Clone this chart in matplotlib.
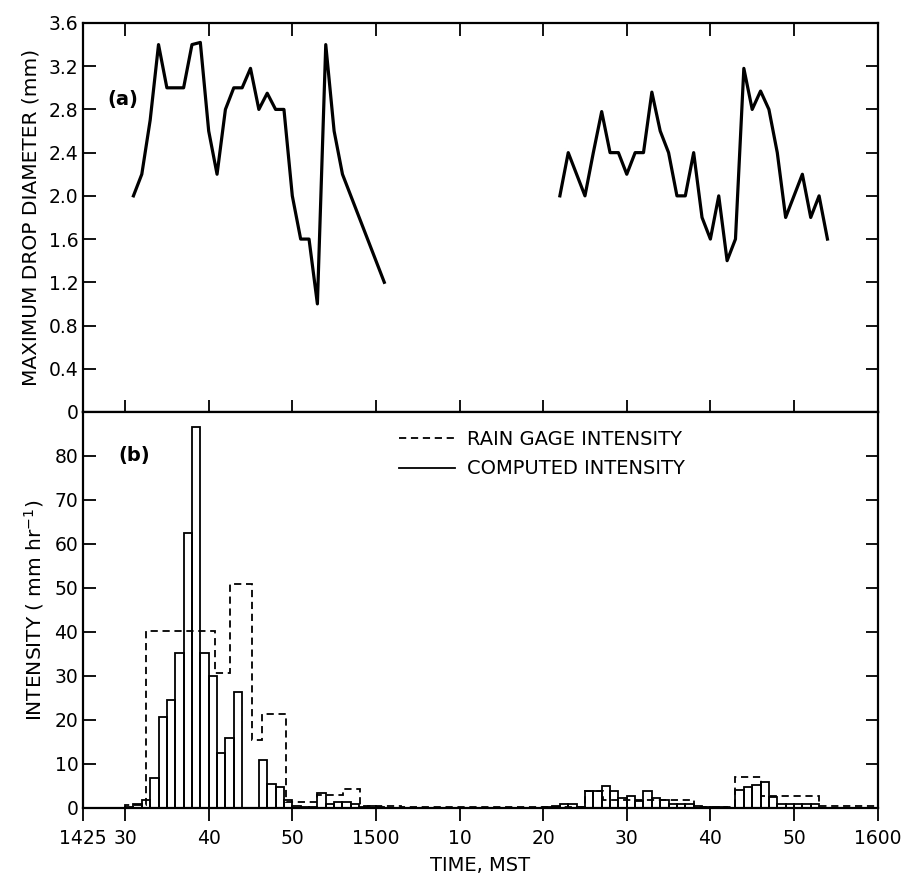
import matplotlib
matplotlib.use("Agg")
import matplotlib.pyplot as plt
from matplotlib.lines import Line2D

# minutes after 1425 MST
# (a) maximum drop diameter, two rain periods
minutes_a1 = [6, 7, 8, 9, 10, 11, 12, 13, 14, 15, 16, 17, 18, 19, 20, 21, 22, 23, 24,
              25, 26, 27, 28, 29, 30, 31, 36]
diam_a1 = [2.0, 2.2, 2.7, 3.4, 3.0, 3.0, 3.0, 3.4, 3.42, 2.6, 2.2, 2.8, 3.0, 3.0, 3.18,
           2.8, 2.95, 2.8, 2.8, 2.0, 1.6, 1.6, 1.0, 3.4, 2.6, 2.2, 1.2]

minutes_a2 = [57, 58, 59, 60, 61, 62, 63, 64, 65, 66, 67, 68, 69, 70, 71, 72, 73, 74,
              75, 76, 77, 78, 79, 80, 81, 82, 83, 84, 85, 86, 87, 88, 89]
diam_a2 = [2.0, 2.4, 2.2, 2.0, 2.4, 2.78, 2.4, 2.4, 2.2, 2.4, 2.4, 2.96, 2.6, 2.4, 2.0,
           2.0, 2.4, 1.8, 1.6, 2.0, 1.4, 1.6, 3.18, 2.8, 2.97, 2.8, 2.4, 1.8, 2.0, 2.2,
           1.8, 2.0, 1.6]

# (b) computed intensity, one-minute bars starting at minute 5
computed_start = 5
computed = [0.3, 0.8, 1.8, 6.7, 20.7, 24.6, 35.3, 62.5, 86.5, 35.3, 30.1, 12.4, 16.0,
            26.3, 0.0, 0.0, 10.8, 5.4, 4.7, 1.9, 0.4, 0.3, 0.2, 3.5, 1.0, 1.4, 1.4,
            0.8, 0.3, 0.4, 0.2, 0.1, 0.1, 0.1, 0.1, 0.1, 0.1, 0.1, 0.1, 0.1, 0.1,
            0.1, 0.1, 0.1, 0.1, 0.1, 0.1, 0.1, 0.1, 0.1, 0.2, 0.4, 1.0, 1.0, 0.3,
            3.8, 3.8, 5.1, 3.9, 2.2, 2.7, 1.5, 3.9, 2.3, 1.9, 0.9, 0.9, 0.9, 0.5,
            0.3, 0.3, 0.2, 0.1, 4.0, 4.8, 5.3, 5.9, 2.4, 1.0, 1.0, 1.0, 1.0, 1.0]

# rain gage intensity, step edges (minutes) and values
gage_edges = [5, 7.5, 15.7, 17.6, 20.2, 21.4, 24.2, 28.0, 31.1, 33.1, 38.0, 60.0,
              62.1, 73.0, 78.0, 81.0, 88.0, 95.0]
gage = [0.6, 40.2, 30.7, 51.0, 15.4, 21.3, 1.3, 2.9, 4.2, 0.4, 0.15, 3.9, 1.8, 0.3,
        7.0, 2.8, 0.4]

xticks = [0, 5, 15, 25, 35, 45, 55, 65, 75, 85, 95]
xlabels = ["1425", "30", "40", "50", "1500", "10", "20", "30", "40", "50", "1600"]

plt.rcParams['font.family'] = ['DejaVu Sans']
plt.rcParams['font.size'] = 13.5

dash = (0, (4, 2.6))

fig = plt.figure(figsize=(9.12, 8.84), dpi=100)
ax1 = fig.add_axes([0.0913, 0.534, 0.871, 0.44])
ax2 = fig.add_axes([0.0913, 0.086, 0.871, 0.448])

# top panel
ax1.plot(minutes_a1, diam_a1, color='black', lw=2.3)
ax1.plot(minutes_a2, diam_a2, color='black', lw=2.3)
ax1.set_xlim(0, 95)
ax1.set_ylim(0, 3.6)
ax1.set_yticks([0, 0.4, 0.8, 1.2, 1.6, 2.0, 2.4, 2.8, 3.2, 3.6])
ax1.set_yticklabels(["0", "0.4", "0.8", "1.2", "1.6", "2.0", "2.4", "2.8", "3.2", "3.6"])
ax1.set_xticks(xticks[1:-1])
ax1.tick_params(axis='both', direction='in', length=9, width=1.3, labelsize=13.5,
                top=True, bottom=True, left=True, right=True, labelbottom=False)
ax1.set_ylabel("MAXIMUM DROP DIAMETER (mm)", fontsize=14.5, labelpad=6)
ax1.text(0.03, 0.79, "(a)", transform=ax1.transAxes, fontsize=14, fontweight='bold')

# bottom panel
bar_x = [computed_start + i for i in range(len(computed))]
ax2.bar(bar_x, computed, width=1.0, align='edge', fill=False,
        edgecolor='black', linewidth=1.3, zorder=2)
ax2.stairs(gage, gage_edges, baseline=0, color='black', linewidth=1.3,
           linestyle=dash, zorder=3)
ax2.set_xlim(0, 95)
ax2.set_ylim(0, 90)
ax2.set_yticks(range(0, 90, 10))
ax2.set_xticks(xticks)
ax2.set_xticklabels(xlabels)
ax2.tick_params(axis='y', direction='in', length=9, width=1.3, left=True, right=True,
                labelsize=13.5)
ax2.tick_params(axis='x', direction='out', length=9, width=1.3, pad=6, labelsize=13.5)
ax2.set_ylabel("INTENSITY ( mm hr$^{-1}$)", fontsize=14.5, labelpad=6)
ax2.set_xlabel("TIME, MST", fontsize=14, labelpad=6)
ax2.text(0.044, 0.875, "(b)", transform=ax2.transAxes, fontsize=14, fontweight='bold')

handles = [Line2D([], [], color='black', lw=1.3, linestyle=dash),
           Line2D([], [], color='black', lw=1.3)]
ax2.legend(handles, ["RAIN GAGE INTENSITY", "COMPUTED INTENSITY"],
           loc='upper left', bbox_to_anchor=(0.397, 0.955), frameon=False,
           handlelength=2.9, handletextpad=0.6, labelspacing=0.55,
           borderaxespad=0, borderpad=0, fontsize=14)

for ax in (ax1, ax2):
    for s in ax.spines.values():
        s.set_linewidth(1.6)

fig.savefig("out.png", dpi=100)
